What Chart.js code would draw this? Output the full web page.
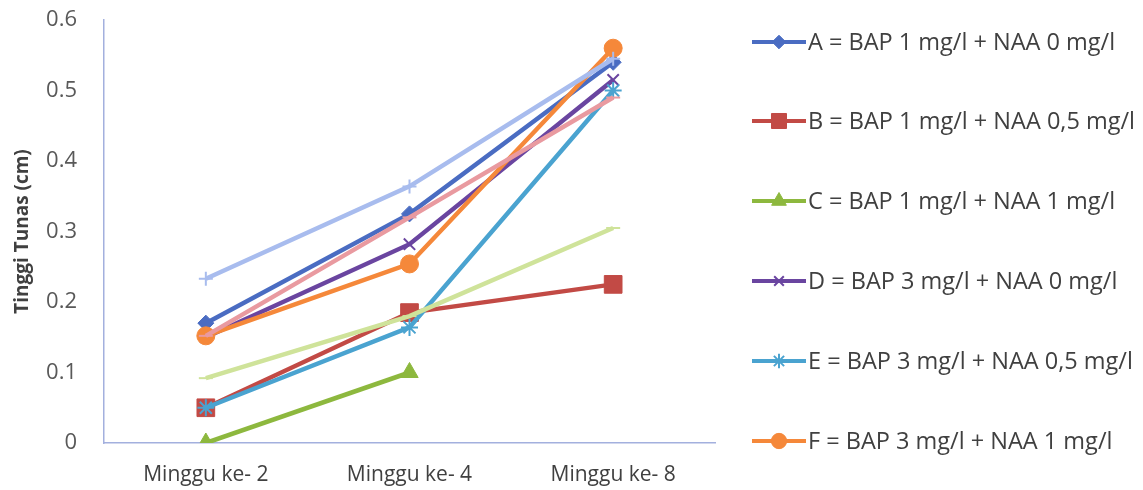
<!DOCTYPE html>
<html>
<head>
<meta charset="utf-8">
<script src="https://cdn.jsdelivr.net/npm/chart.js@4.4.1/dist/chart.umd.min.js"></script>
<style>
  html, body { margin: 0; padding: 0; background: #ffffff; }
  #wrap { width: 1143px; height: 490px; position: relative; }
</style>
</head>
<body>
<div id="wrap"><canvas id="c" width="1143" height="490"></canvas></div>
<script>
// Week categories
const weeks = ['Minggu ke- 2', 'Minggu ke- 4', 'Minggu ke- 8'];

// Shoot height (cm) per treatment
const seriesA = [0.17, 0.325, 0.54];
const seriesB = [0.05, 0.185, 0.225];
const seriesC = [0.0, 0.10, null];
const seriesD = [0.15, 0.282, 0.515];
const seriesE = [0.05, 0.164, 0.50];
const seriesF = [0.152, 0.254, 0.56];
const seriesG = [0.233, 0.364, 0.545];
const seriesH = [0.152, 0.32, 0.49];
const seriesI = [0.092, 0.18, 0.305];

const labelsAll = [
  'A = BAP 1 mg/l + NAA 0 mg/l',
  'B = BAP 1 mg/l + NAA 0,5 mg/l',
  'C = BAP 1 mg/l + NAA 1 mg/l',
  'D = BAP 3 mg/l + NAA 0 mg/l',
  'E = BAP 3 mg/l + NAA 0,5 mg/l',
  'F = BAP 3 mg/l + NAA 1 mg/l',
  'G', 'H', 'I'
];

const yTicks = [0, 0.1, 0.2, 0.3, 0.4, 0.5, 0.6];

const FONT = '"Open Sans", Lato, sans-serif';

const styles = [
  { color: '#4a6cc2', point: 'rectRot', radius: 8, bw: 1 },
  { color: '#c24a45', point: 'rect', radius: 12.5, bw: 1 },
  { color: '#8db83e', point: 'triangle', radius: 10, bw: 1 },
  { color: '#6a45a0', point: 'crossRot', radius: 8, bw: 2 },
  { color: '#4aa3d0', point: 'star', radius: 8.5, bw: 2 },
  { color: '#f5883a', point: 'circle', radius: 9, bw: 1 },
  { color: '#a8bcee', point: 'cross', radius: 7, bw: 2 },
  { color: '#e99aa0', point: 'line', radius: 7, bw: 2 },
  { color: '#cfe39a', point: 'line', radius: 7, bw: 2 }
];

const values = [seriesA, seriesB, seriesC, seriesD, seriesE, seriesF, seriesG, seriesH, seriesI];

const datasets = values.map((v, i) => ({
  label: labelsAll[i],
  data: v,
  borderColor: styles[i].color,
  backgroundColor: styles[i].color,
  pointBackgroundColor: styles[i].color,
  pointBorderColor: styles[i].color,
  pointStyle: styles[i].point,
  pointRadius: styles[i].radius,
  pointBorderWidth: styles[i].bw,
  borderWidth: 4.5,
  tension: 0,
  spanGaps: false,
  order: 100 - i
}));

// Legend at the right: a short line with the series marker, then the label
const sideLegend = {
  id: 'sideLegend',
  afterDraw(chart) {
    const ctx = chart.ctx;
    const rows = [42, 121, 201, 281, 361, 441];
    ctx.save();
    rows.forEach((y, i) => {
      const s = styles[i];
      ctx.strokeStyle = s.color;
      ctx.lineWidth = 4;
      ctx.beginPath();
      ctx.moveTo(752, y);
      ctx.lineTo(806, y);
      ctx.stroke();
      ctx.fillStyle = s.color;
      ctx.strokeStyle = s.color;
      ctx.lineWidth = s.bw;
      Chart.helpers.drawPoint(ctx, {
        pointStyle: s.point,
        radius: s.radius * 0.85,
        borderWidth: s.bw,
        rotation: 0
      }, 779, y);
      ctx.fillStyle = '#404040';
      ctx.font = '23.5px ' + FONT;
      ctx.textBaseline = 'middle';
      ctx.textAlign = 'left';
      ctx.fillText(labelsAll[i], 808, y + 1);
    });
    ctx.restore();
  }
};

new Chart(document.getElementById('c'), {
  type: 'line',
  data: { labels: weeks, datasets },
  plugins: [sideLegend],
  options: {
    responsive: false,
    animation: false,
    layout: { padding: { top: 20, right: 428, left: 0, bottom: 0 } },
    plugins: {
      legend: { display: false },
      tooltip: { enabled: false }
    },
    scales: {
      x: {
        offset: true,
        grid: { display: false, drawTicks: false },
        border: { display: true, color: '#a3b0de', width: 1.5 },
        ticks: { color: '#404040', font: { family: FONT, size: 21 }, padding: 19, maxRotation: 0 },
        afterFit(scale) { scale.height = 47; }
      },
      y: {
        min: 0,
        max: 0.6,
        afterBuildTicks(scale) { scale.ticks = yTicks.map(v => ({ value: v })); },
        grid: {
          display: true,
          drawOnChartArea: false,
          drawTicks: true,
          tickLength: 25,
          color: 'rgba(0,0,0,0)'
        },
        border: { display: true, color: '#a3b0de', width: 1.5 },
        ticks: {
          color: '#595959',
          font: { family: FONT, size: 22 },
          padding: 2,
          callback: v => (v === 0 ? '0' : v.toFixed(1))
        },
        title: {
          display: true,
          text: 'Tinggi Tunas (cm)',
          color: '#404040',
          font: { family: FONT, size: 19, weight: 'bold' },
          padding: { top: 11, bottom: 0 }
        },
        afterFit(scale) { scale.width = 104; }
      }
    }
  }
});
</script>
</body>
</html>
